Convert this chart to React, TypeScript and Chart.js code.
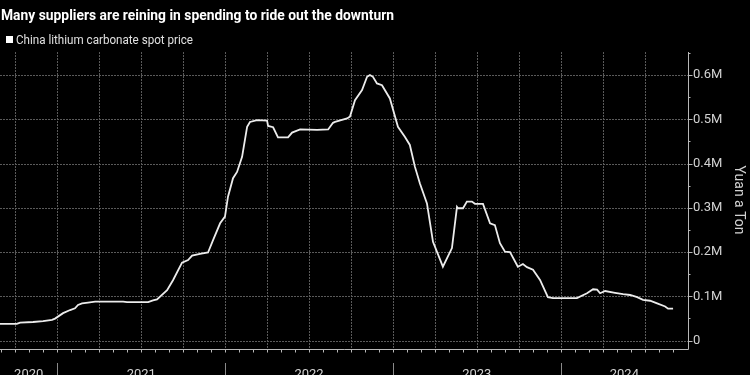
import React, { useEffect, useRef } from 'react';
import { Chart, registerables } from 'chart.js';

Chart.register(...registerables);

const TITLE = 'Many suppliers are reining in spending to ride out the downturn';
const LEGEND_LABEL = 'China lithium carbonate spot price';
const Y_TITLE = 'Yuan a Ton';

const YEARS = [2020, 2021, 2022, 2023, 2024];
const YEAR_LABELS = ['2020', '2021', '2022', '2023', '2024'];

const Y_TICKS = [0, 100000, 200000, 300000, 400000, 500000, 600000];
const Y_TICK_LABELS = ['0', '0.1M', '0.2M', '0.3M', '0.4M', '0.5M', '0.6M'];

// dates as decimal years
const PRICE_DATES = [
  2020.658, 2020.758, 2020.778, 2020.855, 2020.915, 2020.968, 2020.986,
  2021.034, 2021.076, 2021.105, 2021.123, 2021.147, 2021.183, 2021.225,
  2021.392, 2021.415, 2021.541, 2021.570, 2021.594, 2021.654, 2021.690,
  2021.743, 2021.779, 2021.803, 2021.850, 2021.898, 2021.928, 2021.970,
  2021.999, 2022.017, 2022.047, 2022.071, 2022.101, 2022.131, 2022.148,
  2022.190, 2022.250, 2022.256, 2022.286, 2022.315, 2022.375, 2022.399,
  2022.447, 2022.548, 2022.614, 2022.643, 2022.655, 2022.727, 2022.744,
  2022.774, 2022.816, 2022.846, 2022.863, 2022.881, 2022.905, 2022.935,
  2022.982, 2023.030, 2023.072, 2023.101, 2023.131, 2023.161, 2023.203,
  2023.239, 2023.298, 2023.352, 2023.382, 2023.388, 2023.418, 2023.441,
  2023.471, 2023.489, 2023.537, 2023.579, 2023.608, 2023.638, 2023.668,
  2023.698, 2023.745, 2023.775, 2023.799, 2023.835, 2023.877, 2023.924,
  2023.954, 2024.097, 2024.157, 2024.193, 2024.217, 2024.235, 2024.265,
  2024.324, 2024.372, 2024.414, 2024.456, 2024.491, 2024.533, 2024.575,
  2024.623, 2024.640, 2024.670,
];

// yuan per ton
const PRICE_VALUES = [
  37700, 37700, 40600, 42000, 44000, 46700, 49700,
  62000, 69000, 73000, 80600, 84000, 86000, 88000,
  88000, 87000, 87000, 91000, 93000, 114000, 137000,
  176000, 182000, 192000, 196000, 199000, 227000, 265000,
  280000, 325000, 367000, 381000, 415000, 483000, 494000,
  498000, 497000, 485000, 482000, 459000, 459000, 470000,
  477000, 476000, 477000, 492000, 494000, 502000, 506000,
  543000, 566000, 596000, 600000, 596000, 581000, 577000,
  547000, 483000, 460000, 442000, 393000, 355000, 310000,
  223000, 167000, 209000, 302000, 299000, 299000, 314000,
  314000, 309000, 309000, 265000, 261000, 220000, 201000,
  200000, 167000, 173000, 166000, 160000, 137000, 98000,
  96000, 96000, 107000, 116000, 115000, 107000, 112000,
  108000, 105000, 103000, 98000, 92000, 90000, 84000,
  77000, 72000, 72000,
];

const X_MIN = 2020.658;
const X_MAX = 2024.759;
const Y_MIN = -19000;
const Y_MAX = 652000;

const FONT = 'Roboto, "Liberation Sans", sans-serif';
const GRID_COLOR = '#5a5a5a';
const AXIS_COLOR = '#b8b8b8';
const LABEL_COLOR = '#d2d2d2';

const decorPlugin = {
  id: 'decor',
  beforeDraw(chart: any) {
    const { ctx, width, height } = chart;
    ctx.save();
    ctx.fillStyle = '#000';
    ctx.fillRect(0, 0, width, height);
    ctx.restore();
  },
  beforeDatasetsDraw(chart: any) {
    const { ctx, chartArea: a, scales } = chart;
    const xs = scales.x;
    const ys = scales.y;
    ctx.save();
    // dotted grid
    ctx.strokeStyle = GRID_COLOR;
    ctx.lineWidth = 1;
    ctx.setLineDash([2, 1]);
    ctx.beginPath();
    for (let q = Math.ceil(X_MIN * 4); q / 4 <= X_MAX; q++) {
      const x = Math.round(xs.getPixelForValue(q / 4)) + 0.5;
      if (x < a.left || x > a.right - 3) continue;
      ctx.moveTo(x, a.top);
      ctx.lineTo(x, a.bottom);
    }
    for (const v of Y_TICKS) {
      const y = Math.round(ys.getPixelForValue(v)) + 0.5;
      ctx.moveTo(a.left, y);
      ctx.lineTo(a.right, y);
    }
    ctx.stroke();
    ctx.setLineDash([]);

    // axes
    ctx.strokeStyle = AXIS_COLOR;
    ctx.lineWidth = 1;
    ctx.beginPath();
    const by = Math.round(a.bottom) + 0.5;
    const rx = Math.round(a.right) + 0.5;
    ctx.moveTo(a.left, by);
    ctx.lineTo(rx, by);
    ctx.moveTo(rx, a.top);
    ctx.lineTo(rx, by);
    // y ticks: major and minor
    for (let v = 0; v <= Y_MAX; v += 50000) {
      const y = Math.round(ys.getPixelForValue(v)) + 0.5;
      const major = v % 100000 === 0;
      ctx.moveTo(rx, y);
      ctx.lineTo(rx + (major ? 4 : 2), y);
    }
    // monthly ticks
    for (let m = Math.ceil(X_MIN * 12); m / 12 <= X_MAX; m++) {
      const x = Math.round(xs.getPixelForValue(m / 12)) + 0.5;
      if (x > a.right - 2) continue;
      ctx.moveTo(x, by);
      ctx.lineTo(x, by + 3);
    }
    ctx.stroke();

    // year separators
    ctx.strokeStyle = '#8a8a8a';
    ctx.beginPath();
    for (const yr of YEARS) {
      if (yr <= X_MIN || yr >= X_MAX) continue;
      const x = Math.round(xs.getPixelForValue(yr)) + 0.5;
      ctx.moveTo(x, 363);
      ctx.lineTo(x, 376);
    }
    ctx.stroke();
    ctx.restore();
  },
  afterDraw(chart: any) {
    const { ctx, scales } = chart;
    const xs = scales.x;
    ctx.save();
    // title
    ctx.fillStyle = '#ffffff';
    ctx.font = `bold 14px ${FONT}`;
    ctx.textBaseline = 'alphabetic';
    ctx.textAlign = 'left';
    ctx.fillText(TITLE, 1, 20, 393);

    // legend
    ctx.fillStyle = '#ffffff';
    ctx.fillRect(6, 36, 7, 7);
    ctx.fillStyle = '#e0e0e0';
    ctx.font = `12px ${FONT}`;
    ctx.fillText(LEGEND_LABEL, 16, 44, 177);

    // year labels
    ctx.fillStyle = LABEL_COLOR;
    ctx.font = `13px ${FONT}`;
    ctx.textAlign = 'center';
    YEARS.forEach((yr, i) => {
      const s = Math.max(yr, X_MIN);
      const e = Math.min(yr + 1, X_MAX);
      if (e <= s) return;
      const cx = (xs.getPixelForValue(s) + xs.getPixelForValue(e)) / 2;
      ctx.fillText(YEAR_LABELS[i], cx, 378);
    });

    // y title
    ctx.save();
    ctx.translate(738, 200);
    ctx.rotate(Math.PI / 2);
    ctx.textAlign = 'center';
    ctx.textBaseline = 'middle';
    ctx.font = `14px ${FONT}`;
    ctx.fillStyle = LABEL_COLOR;
    ctx.fillText(Y_TITLE, 0, 0);
    ctx.restore();
    ctx.restore();
  },
};

export default function App() {
  const canvasRef = useRef<HTMLCanvasElement | null>(null);

  useEffect(() => {
    const canvas = canvasRef.current;
    if (!canvas) return;
    const points = PRICE_DATES.map((d, i) => ({ x: d, y: PRICE_VALUES[i] }));
    const chart = new Chart(canvas, {
      type: 'line',
      data: {
        datasets: [
          {
            label: LEGEND_LABEL,
            data: points,
            borderColor: '#ececec',
            borderWidth: 1.8,
            pointRadius: 0,
            tension: 0,
            fill: false,
          },
        ],
      },
      options: {
        animation: false,
        responsive: false,
        devicePixelRatio: 1,
        layout: { padding: { left: 0, top: 52, right: 0, bottom: 26 } },
        plugins: {
          legend: { display: false },
          title: { display: false },
          tooltip: { enabled: false },
        },
        scales: {
          x: {
            type: 'linear',
            min: X_MIN,
            max: X_MAX,
            display: false,
          },
          y: {
            type: 'linear',
            position: 'right',
            min: Y_MIN,
            max: Y_MAX,
            grid: { display: false, drawTicks: false },
            border: { display: false },
            afterBuildTicks: (scale: any) => {
              scale.ticks = Y_TICKS.map((v) => ({ value: v }));
            },
            afterFit: (scale: any) => {
              scale.width = 62;
            },
            ticks: {
              color: LABEL_COLOR,
              padding: 5,
              font: { family: FONT, size: 13 },
              callback: (value: any) => {
                const idx = Y_TICKS.indexOf(Number(value));
                return idx >= 0 ? Y_TICK_LABELS[idx] : '';
              },
            },
          },
        },
      },
      plugins: [decorPlugin],
    });
    return () => chart.destroy();
  }, []);

  return (
    <div style={{ position: 'fixed', left: 0, top: 0, width: 750, height: 375, background: '#000' }}>
      <canvas ref={canvasRef} width={750} height={375} style={{ display: 'block' }} />
    </div>
  );
}
